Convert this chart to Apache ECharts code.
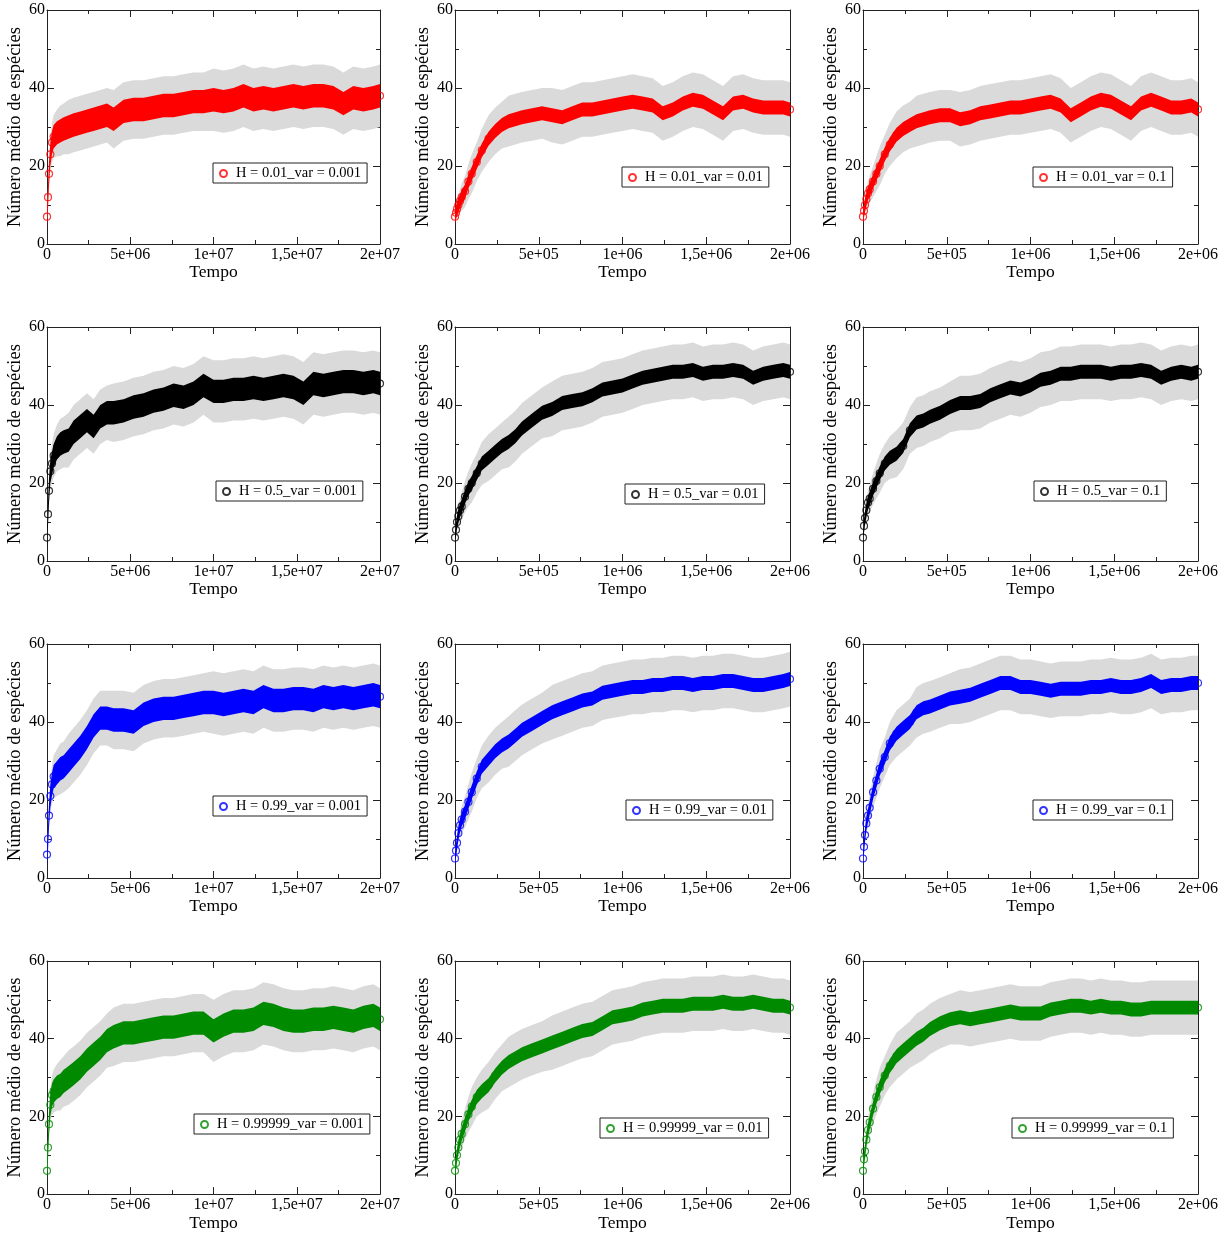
<!DOCTYPE html>
<html>
<head>
<meta charset="utf-8">
<script src="https://cdn.jsdelivr.net/npm/echarts@6/dist/echarts.min.js"></script>
<style>
html,body{margin:0;padding:0;background:#fff;}
#chart{width:1227px;height:1233px;}
</style>
</head>
<body>
<div id="chart"></div>
<script>
// Sampling instants as a fraction of each panel's time range
const tempoFrac = [0,0.003,0.006,0.01,0.015,0.02,0.03,0.04,0.05,0.065,0.08,0.1,0.12,0.14,0.16,0.18,0.2,0.23,0.26,0.29,0.32,0.35,0.38,0.41,0.44,0.47,0.5,0.53,0.56,0.59,0.62,0.65,0.68,0.71,0.74,0.77,0.8,0.83,0.86,0.89,0.92,0.95,0.98,1.0];

const rotulosLongo = ['0','5e+06','1e+07','1,5e+07','2e+07'];
const rotulosCurto = ['0','5e+05','1e+06','1,5e+06','2e+06'];
const yTicks = [0,20,40,60];

// Mean number of species (one array per panel)
const mH001v0001 = [7,12,18,23,26, 27.5,28.5,29,29.5,30, 30.5,31,31.5,32,32.5, 33,32,34,34.5,34.5, 35,35.5,35.5,36,36.5, 36.5,37,36.5,37,38, 37,37.5,37,37.5,38, 37.5,38,38,37.5,36, 37.5,37,37.5,38];
const mH001v001 = [7,8,9,10,11, 12,13.5,16,18,21, 24,27,29,30.5,31.5, 32,32.5,33,33.5,33, 32.5,33.5,34.5,34.5,35, 35.5,36,36.5,36,35.5, 33.5,34.5,36,37,36.5, 35,33.5,36,36.5,35.5, 35,35,35,34.5];
const mH001v01 = [7,8.5,10,11.5,13, 14,16,18,20,23, 25.5,28,29.5,30.5,31.5, 32,32.5,33,33,32, 32.5,33.5,34,34.5,35, 35,35.5,36,36.5,35.5, 33,34.5,36,37,36.5, 35,33.5,36,37,36, 35,35,35.5,34.5];
const mH05v0001 = [6,12,18,23,25, 27,29,30,30.5,31, 33,34.5,36,34.5,37, 38,38,38.5,39.5,40, 41,41.5,42.5,42,43, 45,43.5,43.5,44,44, 44.5,44,44.5,45,44.5, 43,45.5,45,45.5,46, 46,45.5,46,45.5];
const mH05v001 = [6,8,10,11.5,13, 14,16.5,18.5,20,22.5, 25,26.5,28,29.5,30.5, 32,34,36,38,39, 40.5,41,41.5,42.5,44, 44.5,45,46,47,47.5, 48,48.5,48.5,49,48, 48.5,48.5,49,48.5,47, 48,48.5,49,48.5];
const mH05v01 = [6,9,11,13,15, 16,18.5,20.5,22.5,25, 26.5,27.5,29.5,33.5,35.5, 36,37,38,39.5,40.5, 40.5,41,42.5,43.5,44.5, 44,45,46.5,47,48, 48,48.5,48.5,48.5,48, 48.5,48.5,49,48.5,47, 48,48.5,48,48.5];
const mH099v0001 = [6,10,16,21,24, 26,27,28,28.5,30, 31.5,33.5,36,39,41, 41,40.5,40.5,40,42, 43,43.5,43.5,44,44.5, 45,45,44.5,45,45.5, 45,46.5,45.5,45.5,46, 46,45.5,46.5,46,46.5, 46,46.5,47,46.5];
const mH099v001 = [5,7,9,11.5,13.5, 15,17,19.5,22,25.5, 28.5,30.5,32.5,34,35, 36.5,38,39.5,41,42.5, 43.5,44.5,45.5,46,47.5, 48,48.5,49,49,49.5, 49.5,50,50,49.5,50, 50,50.5,50.5,50,49.5, 49.5,50,50.5,51];
const mH099v01 = [5,8,11,14,16, 18,22,25,28,31, 34.5,37,38.5,40,42.5, 43.5,44,45,46,46.5, 47,48,49,50,50, 49,49,48.5,48,48.5, 48.5,48.5,49,49,49.5, 49,49,49.5,50.5,49, 49.5,49.5,50,50];
const mH099999v0001 = [6,12,18,23,25.5, 26.5,27.5,28,29,30, 31,32.5,34.5,36,37.5, 39.5,40.5,41.5,41.5,42, 42.5,43,43,43.5,44, 44,42,43.5,44.5,44.5, 45,46.5,46,45,44.5, 44.5,45,45,45.5,45, 44.5,45.5,46,45];
const mH099999v001 = [6,8,10,12,14, 15.5,18,20.5,22.5,25, 26.5,28,30.5,32.5,34, 35,36,37,38,39, 40,41,42,42.5,44, 45.5,46,46.5,47.5,48, 48.5,48.5,48.5,49,49, 49,49.5,49,49,49.5, 49,48.5,48.5,48];
const mH099999v01 = [6,9,11,14,16.5, 18.5,22,25,27.5,30.5, 33,35.5,37,38.5,40, 41,42.5,44,45,45.5, 45,45.5,46,46.5,47, 46.5,46.5,46.5,47.5,48, 48.5,48.5,48,48.5,48, 48,47.5,47.5,48,48, 48,48,48,48];

// Half-width of the grey error bars (standard deviation)
const desvioLongo = [1,2,3,4,5, 5.5,6,6.5,6.5,7, 7,7,7,7,7, 7,7.5,7.5,7.5,7.5, 7.5,7.5,7.5,7.5,7.5, 7.5,8,8,8,8, 8,8,8,8,8, 8,8,8,8,8, 8,8,8,8];
const desvioCurto = [1,1.5,2,2.5,3, 3.5,4,4.5,5,5, 5.5,6,6,6,6.5, 6.5,6.5,6.5,6.5,7, 7,7,7,7,7, 7,7,7,7,7, 7,7,7,7,7, 7,7,7,7,7, 7,7,7,7];
// Vertical spread of the coloured point cloud around the mean
const espalhamentoLongo = 3;
const espalhamentoCurto = 1.8;

const legendas = ['H = 0.01_var = 0.001','H = 0.01_var = 0.01','H = 0.01_var = 0.1',
  'H = 0.5_var = 0.001','H = 0.5_var = 0.01','H = 0.5_var = 0.1',
  'H = 0.99_var = 0.001','H = 0.99_var = 0.01','H = 0.99_var = 0.1',
  'H = 0.99999_var = 0.001','H = 0.99999_var = 0.01','H = 0.99999_var = 0.1'];
const medias = [mH001v0001,mH001v001,mH001v01,mH05v0001,mH05v001,mH05v01,mH099v0001,mH099v001,mH099v01,mH099999v0001,mH099999v001,mH099999v01];
const xMaximos = [2e7,2e6,2e6];

// ---- layout / style ----
const cores = ['#ff0000','#000000','#0000ff','#008a00'];
const gridLeft = [47,455,863];
const gridWidth = [333,335,335];
const gridTop = [10,327,644,961];
const gridH = 234;
const legPos = [[213,163],[622,167],[1033,167],[216,481],[625,484],[1034,481],[213,796],[626,800],[1033,800],[194,1114],[600,1118],[1012,1118]];
const FONT = 'Liberation Serif';
const AX = '#222';

const grids=[], xAxes=[], yAxes=[], series=[], legends=[];

function bandSeries(xi, yi, xs, lo, hi, fill, z){
  return {
    type:'custom', xAxisIndex:xi, yAxisIndex:yi, silent:true, clip:true, z:z,
    data: xs.map((x,k)=>[x, lo[k], hi[k]]),
    renderItem: function(params, api){
      if (params.dataIndex !== 0) return null;
      const pts=[];
      for (let k=0;k<xs.length;k++) pts.push(api.coord([xs[k], hi[k]]));
      for (let k=xs.length-1;k>=0;k--) pts.push(api.coord([xs[k], lo[k]]));
      return {type:'polygon', shape:{points:pts}, style:{fill:fill, stroke:null}};
    }
  };
}

for (let i=0;i<12;i++){
  const r=Math.floor(i/3), c=i%3;
  const xMax=xMaximos[c];
  const rot = c===0 ? rotulosLongo : rotulosCurto;
  const sd = c===0 ? desvioLongo : desvioCurto;
  const esp = c===0 ? espalhamentoLongo : espalhamentoCurto;
  const cor = cores[r];
  const m = medias[i];
  const xs = tempoFrac.map(t=>t*xMax);
  grids.push({left:gridLeft[c], top:gridTop[r], width:gridWidth[c], height:gridH, containLabel:false});
  const baseX = {
    type:'value', gridIndex:i, min:0, max:xMax, interval:xMax/4,
    axisLine:{show:true, onZero:false, lineStyle:{color:AX, width:1}},
    axisTick:{show:true, inside:true, length:7, lineStyle:{color:AX}},
    minorTick:{show:true, splitNumber:2, length:4, lineStyle:{color:AX}},
    splitLine:{show:false}, minorSplitLine:{show:false}
  };
  xAxes.push(Object.assign({}, baseX, {
    position:'bottom',
    axisLabel:{show:true, margin:3, color:'#000', fontFamily:FONT, fontSize:16,
      formatter:v=>rot[Math.round(v/(xMax/4))]},
    name:'Tempo', nameLocation:'middle', nameGap:19,
    nameTextStyle:{color:'#000', fontFamily:FONT, fontSize:17.5}
  }));
  xAxes.push(Object.assign({}, baseX, {position:'top', axisLabel:{show:false}}));
  const baseY = {
    type:'value', gridIndex:i, min:0, max:60, interval:20,
    axisLine:{show:true, onZero:false, lineStyle:{color:AX, width:1}},
    axisTick:{show:true, inside:true, length:7, lineStyle:{color:AX}},
    minorTick:{show:true, splitNumber:2, length:4, lineStyle:{color:AX}},
    splitLine:{show:false}, minorSplitLine:{show:false}
  };
  yAxes.push(Object.assign({}, baseY, {
    position:'left',
    axisLabel:{show:true, margin:2, color:'#000', fontFamily:FONT, fontSize:16,
      formatter:v=>String(yTicks[Math.round(v/20)])},
    name:'Número médio de espécies', nameLocation:'middle', nameGap:22, nameRotate:90,
    nameTextStyle:{color:'#000', fontFamily:FONT, fontSize:18.5}
  }));
  yAxes.push(Object.assign({}, baseY, {position:'right', axisLabel:{show:false}}));

  const xi=2*i, yi=2*i;
  series.push(bandSeries(xi, yi, xs, m.map((v,k)=>v-sd[k]), m.map((v,k)=>v+sd[k]), '#dadada', 1));
  series.push(bandSeries(xi, yi, xs, m.map(v=>v-esp), m.map(v=>v+esp), cor, 2));
  series.push({
    type:'scatter', name:legendas[i], xAxisIndex:xi, yAxisIndex:yi, z:3,
    data: xs.map((x,k)=>[x, m[k]]),
    symbol:'circle', symbolSize:7,
    itemStyle:{color:'rgba(255,255,255,0)', borderColor:cor, borderWidth:1.2},
    emphasis:{disabled:true}
  });
  legends.push({
    data:[legendas[i]], left:legPos[i][0], top:legPos[i][1],
    orient:'horizontal', backgroundColor:'#fff', borderColor:'#222', borderWidth:1,
    padding:[3,6,2,6], itemWidth:7, itemHeight:7, itemGap:4, selectedMode:false,
    textStyle:{color:'#000', fontFamily:FONT, fontSize:14.5, padding:[1,0,0,4]}
  });
}

const chart = echarts.init(document.getElementById('chart'), null, {renderer:'canvas'});
chart.setOption({
  backgroundColor:'#fff',
  animation:false,
  grid:grids, xAxis:xAxes, yAxis:yAxes, series:series, legend:legends
});
</script>
</body>
</html>
